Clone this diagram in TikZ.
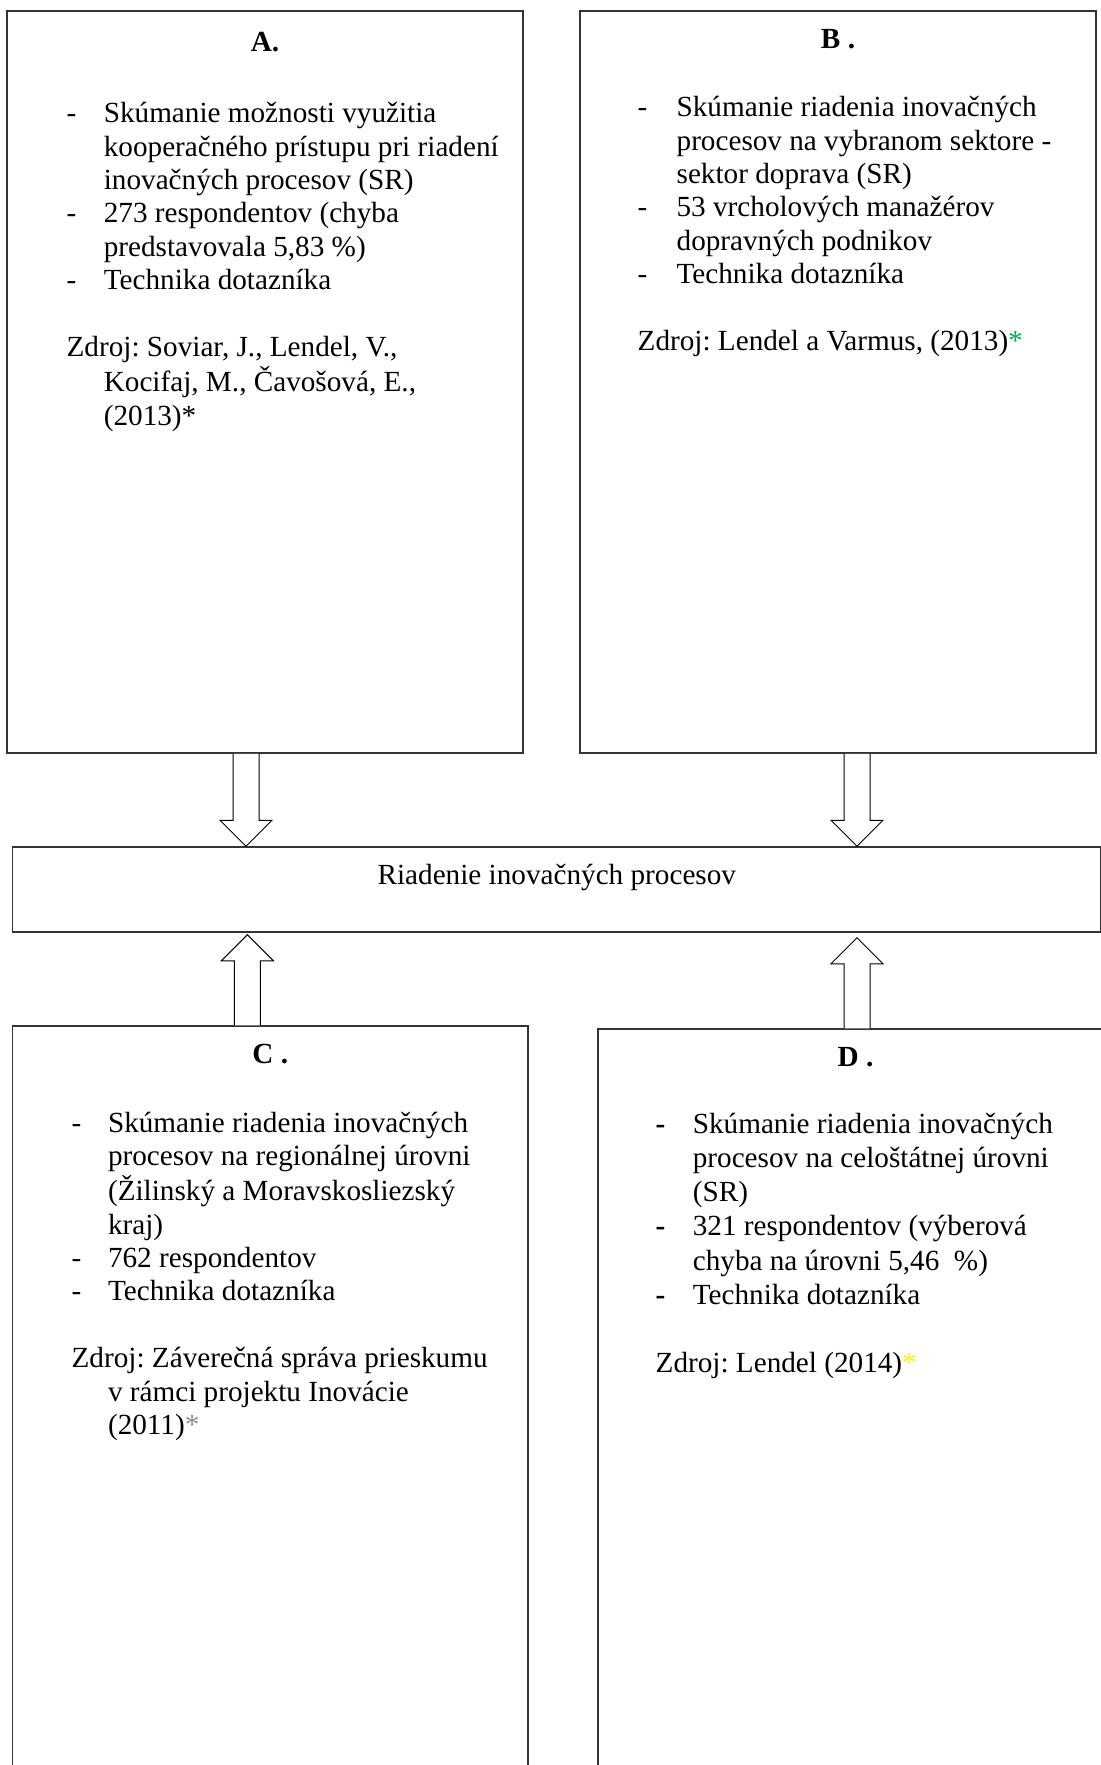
\documentclass[tikz,border=0pt]{standalone}
\usepackage{fontspec}
\setmainfont{Liberation Serif}
\usepackage{tikz}
\usetikzlibrary{positioning, fit, calc}

\definecolor{asgreen}{HTML}{00B050}
\definecolor{asgray}{HTML}{8C8C8C}
\definecolor{asyellow}{HTML}{FFF200}
\newcommand{\bodyfont}{\fontsize{14.6}{16.7}\selectfont}
\frenchspacing
% hollow block arrow from #1 to #2 (tip)
\newcommand{\fatarrow}[2]{%
  \coordinate (hb) at ($(#2)!13pt!(#1)$);
  \draw[arrowline] ($(#1)!6.5pt!90:(#2)$) -- ($(hb)!6.5pt!90:(#2)$) -- ($(hb)!13pt!90:(#2)$) -- (#2)
    -- ($(hb)!13pt!-90:(#2)$) -- ($(hb)!6.5pt!-90:(#2)$) -- ($(#1)!6.5pt!-90:(#2)$);}

\begin{document}
\begin{tikzpicture}[
  x=0.5pt, y=-0.5pt, % one unit = one pixel of the original
  box/.style={draw=black!80, line width=0.75pt, inner sep=0pt},
  ttl/.style={anchor=base, inner sep=0pt, font=\bodyfont\bfseries},
  txt/.style={anchor=base west, inner sep=0pt, font=\bodyfont},
  arrowline/.style={draw=black, line width=0.5pt, fill=white}]

  \useasboundingbox (0,0) rectangle (1100,1765);

  \node[box, fit={(7,11) (523,753)}] (boxA) {};
  \node[box, fit={(580,11) (1096,753)}] (boxB) {};
  \node[box, fit={(12.6,847) (1101,932)}] (mid) {};
  \node[box, fit={(12.6,1026) (528,1790)}] (boxC) {};
  \node[box, fit={(598,1029) (1113,1790)}] (boxD) {};

  \node[txt, anchor=base] (mid-label) at ($(mid.north)+(0,38)$) {Riadenie inovačných procesov};

  \node[ttl] (a-title) at ($(boxA.north)+(0,41)$) {A.};
  \node[txt] (a-list) at ($(boxA.north west)+(60,112.5)$) {%
    \begin{tabular}[t]{@{}p{18.6pt}@{}l@{}}
    - & Skúmanie možnosti využitia\\
      & kooperačného prístupu pri riadení\\
      & inovačných procesov (SR)\\
    - & 273 respondentov (chyba\\
      & predstavovala 5,83 \%)\\
    - & Technika dotazníka\\
      & \\
    \multicolumn{2}{@{}l@{}}{Zdroj: Soviar, J., Lendel, V.,}\\
      & Kocifaj, M., Čavošová, E.,\\
      & (2013)*
    \end{tabular}};

  \node[ttl] (b-title) at ($(boxB.north)+(0,38)$) {B .};
  \node[txt] (b-list) at ($(boxB.north west)+(58,106.5)$) {%
    \begin{tabular}[t]{@{}p{19.5pt}@{}l@{}}
    - & Skúmanie riadenia inovačných\\
      & procesov na vybranom sektore -\\
      & sektor doprava (SR)\\
    - & 53 vrcholových manažérov\\
      & dopravných podnikov\\
    - & Technika dotazníka\\
      & \\
    \multicolumn{2}{@{}l@{}}{Zdroj: Lendel a Varmus, (2013)\textcolor{asgreen}{*}}
    \end{tabular}};

  \node[ttl] (c-title) at ($(boxC.north)+(0,38)$) {C .};
  \node[txt] (c-list) at ($(boxC.north west)+(59.4,107)$) {%
    \begin{tabular}[t]{@{}p{18.2pt}@{}l@{}}
    - & Skúmanie riadenia inovačných\\
      & procesov na regionálnej úrovni\\
      & (Žilinský a Moravskosliezský\\
      & kraj)\\
    - & 762 respondentov\\
    - & Technika dotazníka\\
      & \\
    \multicolumn{2}{@{}l@{}}{Zdroj: Záverečná správa prieskumu}\\
      & v rámci projektu Inovácie\\
      & (2011)\textcolor{asgray}{*}
    \end{tabular}};

  \node[ttl] (d-title) at ($(boxD.north)+(0,38)$) {D .};
  \node[txt, font=\fontsize{14.6}{17.1}\selectfont] (d-list) at ($(boxD.north west)+(58,105)$) {%
    \begin{tabular}[t]{@{}p{18.6pt}@{}l@{}}
    \textbf{-} & Skúmanie riadenia inovačných\\
      & procesov na celoštátnej úrovni\\
      & (SR)\\
    \textbf{-} & 321 respondentov (výberová\\
      & chyba na úrovni 5,46\ \ \%)\\
    \textbf{-} & Technika dotazníka\\
      & \\
    \multicolumn{2}{@{}l@{}}{Zdroj: Lendel (2014)\textcolor{asyellow}{*}}
    \end{tabular}};

  % arrows into the middle box
  \coordinate (a-out) at ($(boxA.south)+(-19,0)$);
  \coordinate (a-in) at (a-out |- mid.north);
  \coordinate (b-out) at ($(boxB.south)+(19,0)$);
  \coordinate (b-in) at (b-out |- mid.north);
  \coordinate (c-out) at ($(boxC.north)+(-23,0)$);
  \coordinate (c-in) at ($(c-out |- mid.south)+(0,2)$);
  \coordinate (d-out) at ($(boxD.north)+(1.5,0)$);
  \coordinate (d-in) at ($(d-out |- mid.south)+(0,5)$);

  \fatarrow{a-out}{a-in}
  \fatarrow{b-out}{b-in}
  \fatarrow{c-out}{c-in}
  \fatarrow{d-out}{d-in}
\end{tikzpicture}
\end{document}
